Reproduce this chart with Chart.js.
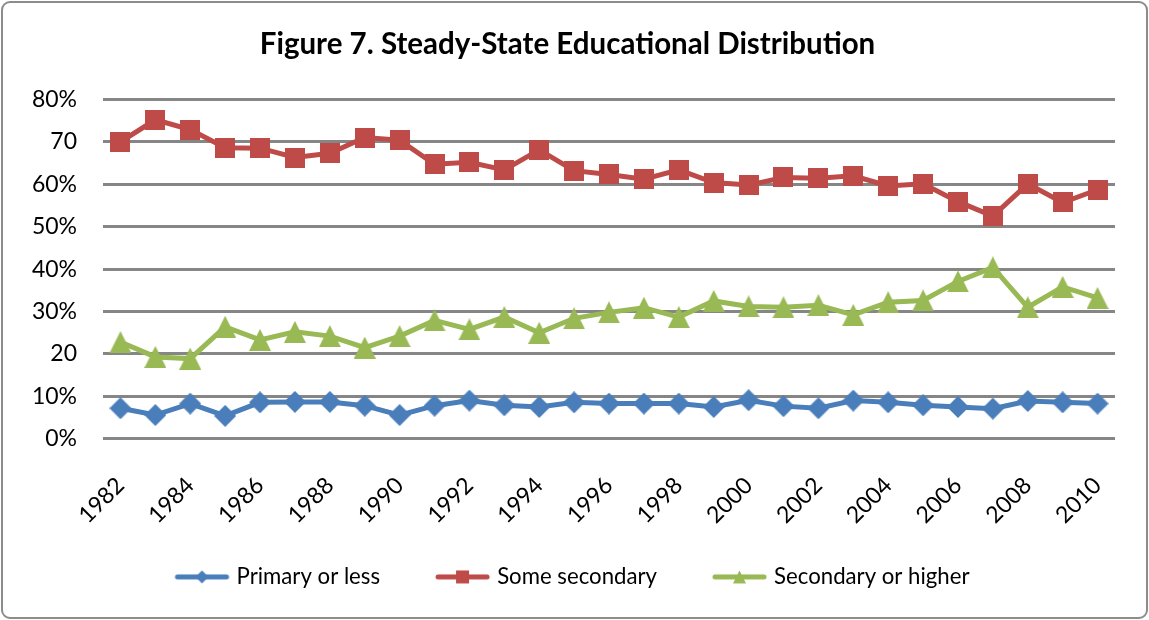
<!DOCTYPE html>
<html>
<head>
<meta charset="utf-8">
<script src="https://cdn.jsdelivr.net/npm/chart.js@4.4.0/dist/chart.umd.min.js"></script>
<style>
  html, body { margin: 0; padding: 0; background: #fff; }
</style>
</head>
<body>
<canvas id="chart" width="1149" height="620"></canvas>
<script>
// data (percent)
const years = ['1982', '1983', '1984', '1985', '1986', '1987', '1988', '1989', '1990', '1991',
  '1992', '1993', '1994', '1995', '1996', '1997', '1998', '1999', '2000', '2001',
  '2002', '2003', '2004', '2005', '2006', '2007', '2008', '2009', '2010'];
const primaryOrLess = [7.2, 5.6, 8.3, 5.4, 8.6, 8.7, 8.7, 7.8, 5.6, 7.8,
  9.0, 7.9, 7.5, 8.6, 8.3, 8.3, 8.3, 7.5, 9.1, 7.7,
  7.2, 9.0, 8.6, 7.9, 7.5, 7.1, 8.9, 8.6, 8.3];
const someSecondary = [70.0, 75.2, 72.9, 68.6, 68.5, 66.3, 67.3, 71.0, 70.4, 64.7,
  65.2, 63.4, 68.1, 63.2, 62.3, 61.2, 63.4, 60.4, 59.8, 61.6,
  61.4, 62.0, 59.6, 60.1, 55.9, 52.5, 60.1, 55.7, 58.7];
const secondaryOrHigher = [22.8, 19.3, 18.9, 26.4, 23.3, 25.2, 24.2, 21.5, 24.2, 27.9,
  25.8, 28.7, 25.0, 28.4, 29.8, 30.9, 28.7, 32.5, 31.2, 31.0,
  31.5, 29.2, 32.2, 32.6, 37.1, 40.4, 31.0, 35.8, 33.2];
const yTickLabels = ['0%', '10%', '20', '30%', '40%', '50%', '60%', '70', '80%'];
const seriesNames = ['Primary or less', 'Some secondary', 'Secondary or higher'];

const BLUE = '#4A7EBB';
const RED = '#BE4B48';
const GREEN = '#98B954';
const FONT = 'Lato';

function drawShape(g, shape, cx, cy, s) {
  const h = s / 2;
  g.beginPath();
  if (shape === 'diamond') {
    g.moveTo(cx, cy - h); g.lineTo(cx + h, cy); g.lineTo(cx, cy + h); g.lineTo(cx - h, cy);
  } else if (shape === 'square') {
    g.rect(cx - h, cy - h, s, s);
  } else {
    g.moveTo(cx, cy - h); g.lineTo(cx + h, cy + h); g.lineTo(cx - h, cy + h);
  }
  g.closePath();
  g.fill();
}

function markerCanvas(shape, color, size) {
  const c = document.createElement('canvas');
  c.width = size; c.height = size;
  const g = c.getContext('2d');
  g.fillStyle = color;
  drawShape(g, shape, size / 2, size / 2, size);
  return c;
}

// legend swatch: line + marker pushed to the right of the image so it sits
// just before the label text
function legendCanvas(shape, color) {
  const c = document.createElement('canvas');
  c.width = 72; c.height = 20;
  const g = c.getContext('2d');
  g.strokeStyle = color;
  g.lineWidth = 5;
  g.lineCap = 'round';
  g.beginPath(); g.moveTo(18, 10); g.lineTo(67, 10); g.stroke();
  g.fillStyle = color;
  drawShape(g, shape, 42.5, 10, 13);
  return c;
}

const legendImgs = [
  legendCanvas('diamond', BLUE),
  legendCanvas('square', RED),
  legendCanvas('triangle', GREEN)
];

// white background + rounded grey frame like the Excel chart area
const framePlugin = {
  id: 'frame',
  beforeDraw(chart) {
    const c = chart.ctx;
    c.save();
    c.fillStyle = '#fff';
    c.fillRect(0, 0, chart.width, chart.height);
    c.restore();
  },
  afterDraw(chart) {
    const c = chart.ctx;
    c.save();
    c.strokeStyle = '#8c8c8c';
    c.lineWidth = 2;
    c.beginPath();
    c.roundRect(2, 2, chart.width - 4, chart.height - 4, 8);
    c.stroke();
    c.restore();
  }
};

// the rotated year labels hang a little below the x-axis box; let them show
const labelRoomPlugin = {
  id: 'labelRoom',
  afterLayout(chart) {
    const s = chart.scales.x;
    s.bottom = s.top + 140;
  }
};

new Chart(document.getElementById('chart').getContext('2d'), {
  type: 'line',
  data: {
    labels: years,
    datasets: [
      {
        label: seriesNames[0], data: primaryOrLess,
        borderColor: BLUE, backgroundColor: BLUE, borderWidth: 5,
        pointStyle: markerCanvas('diamond', BLUE, 22)
      },
      {
        label: seriesNames[1], data: someSecondary,
        borderColor: RED, backgroundColor: RED, borderWidth: 5,
        pointStyle: markerCanvas('square', RED, 20)
      },
      {
        label: seriesNames[2], data: secondaryOrHigher,
        borderColor: GREEN, backgroundColor: GREEN, borderWidth: 5,
        pointStyle: markerCanvas('triangle', GREEN, 22)
      }
    ]
  },
  options: {
    responsive: false,
    animation: false,
    layout: { padding: { left: 10, right: 24, top: 0, bottom: 22 } },
    plugins: {
      title: {
        display: true,
        text: 'Figure 7. Steady-State Educational Distribution',
        color: '#000',
        font: { family: FONT, size: 29.5, weight: 'bold' },
        padding: { top: 27, bottom: 37 }
      },
      legend: {
        position: 'bottom',
        labels: {
          usePointStyle: true,
          pointStyleWidth: 60,
          color: '#000',
          padding: 46,
          font: { family: FONT, size: 22.2 },
          generateLabels: chart => chart.data.datasets.map((ds, i) => ({
            text: ds.label,
            pointStyle: legendImgs[i],
            fillStyle: ds.borderColor,
            strokeStyle: ds.borderColor,
            lineWidth: 0,
            hidden: false,
            datasetIndex: i
          }))
        }
      },
      tooltip: { enabled: false }
    },
    scales: {
      x: {
        offset: true,
        grid: { display: false },
        border: { display: false },
        ticks: {
          autoSkip: false,
          minRotation: 45,
          maxRotation: 45,
          padding: 25,
          color: '#000',
          font: { family: FONT, size: 23 },
          callback: (v, i) => (i % 2 === 0 ? years[i] : '')
        },
        afterFit: s => { s.height = 81; }
      },
      y: {
        min: 0,
        max: 80,
        border: { display: false },
        grid: { color: '#868686', lineWidth: 3, drawTicks: false },
        ticks: {
          stepSize: 10,
          padding: 26,
          color: '#000',
          font: { family: FONT, size: 23 },
          callback: v => yTickLabels[Math.round(v / 10)]
        },
        afterFit: s => { s.width = 93; }
      },
      // blank right-hand spacer so the title and legend centre like the original
      yRight: {
        position: 'right',
        display: true,
        grid: { display: false },
        border: { display: false },
        ticks: { display: false },
        afterFit: s => { s.width = 10; }
      }
    }
  },
  plugins: [framePlugin, labelRoomPlugin]
});
</script>
</body>
</html>
